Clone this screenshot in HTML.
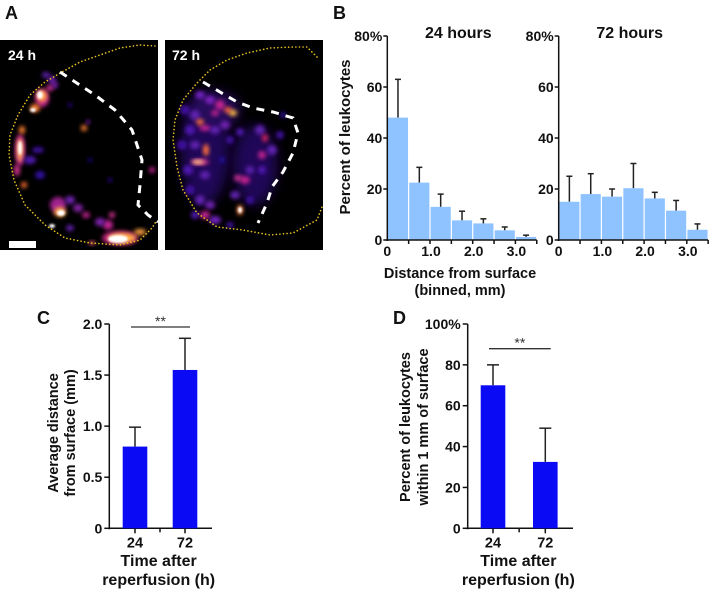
<!DOCTYPE html>
<html><head><meta charset="utf-8">
<style>
html,body{margin:0;padding:0;background:#fff;}
body{width:709px;height:590px;overflow:hidden;font-family:"Liberation Sans",Arial,sans-serif;}
svg text{font-family:"Liberation Sans",Arial,sans-serif;font-weight:bold;fill:#111;}
</style></head>
<body>
<svg id="fig" width="709" height="590" viewBox="0 0 709 590" xmlns="http://www.w3.org/2000/svg">
<defs>
<filter id="blur" x="-50%" y="-50%" width="200%" height="200%"><feGaussianBlur stdDeviation="2"/></filter>
<filter id="blur2" x="-50%" y="-50%" width="200%" height="200%"><feGaussianBlur stdDeviation="1"/></filter>
<filter id="blur3" x="-50%" y="-50%" width="200%" height="200%"><feGaussianBlur stdDeviation="6"/></filter>
<clipPath id="clipL"><rect x="0" y="40" width="158" height="210"/></clipPath>
<clipPath id="clipR"><rect x="165" y="40" width="158" height="210"/></clipPath>
</defs>
<text x="5" y="19" font-size="18">A</text>
<text x="333" y="19" font-size="18">B</text>
<text x="37" y="324" font-size="18">C</text>
<text x="393" y="324" font-size="18">D</text>

<g>
<rect x="0" y="40" width="158" height="210" fill="#000"/>
<g id="blobsL" clip-path="url(#clipL)"></g>
<polyline fill="none" stroke="#e8c020" stroke-width="1.6" stroke-linecap="round" stroke-dasharray="0.1 3.5" points="155,46 140,45 120,48 100,55 80,62 62,72 45,82 30,95 18,115 10,135 9,155 14,180 25,205 45,225 65,238 90,243 120,245 140,240 152,228 157,220"/>
<polyline fill="none" stroke="#fff" stroke-width="3" stroke-dasharray="8 7" points="60,72 95,95 115,110 132,130 142,160 140,185 138,205 148,215 158,222"/>
<text x="8" y="60" font-size="14" style="fill:#fff">24 h</text>
<rect x="9" y="241" width="27" height="7" fill="#fff"/>
</g>
<g>
<rect x="165" y="40" width="158" height="210" fill="#000"/>
<g clip-path="url(#clipR)" opacity="0.55">
<ellipse cx="205" cy="150" rx="24" ry="55" fill="#3a10a0" filter="url(#blur3)"/>
<ellipse cx="255" cy="165" rx="22" ry="40" fill="#3a10a0" filter="url(#blur3)"/>
<ellipse cx="215" cy="110" rx="25" ry="18" fill="#4a14a8" filter="url(#blur3)"/>
</g>
<g id="blobsR" clip-path="url(#clipR)"></g>
<polyline fill="none" stroke="#e8c020" stroke-width="1.6" stroke-linecap="round" stroke-dasharray="0.1 3.5" points="317,57 307,47 293,47 270,48 247,53 227,60 210,70 197,83 183,100 175,120 173,140 177,167 183,190 197,213 217,227 243,230 270,235 293,233 317,220 322,207"/>
<polyline fill="none" stroke="#fff" stroke-width="3" stroke-dasharray="8 7" points="203,82 220,92 237,102 253,108 273,112 293,118 298,133 293,153 283,172 272,187 267,203 258,223"/>
<text x="172" y="60" font-size="14" style="fill:#fff">72 h</text>
</g>

<g id="panelB"></g>
<g id="panelC"></g>
<g id="panelD"></g>
</svg>
<script>
// Panel B data
const binStarts = [0, 0.5, 1.0, 1.5, 2.0, 2.5, 3.0];
const vals24 = [48, 22.5, 13, 7.7, 6.5, 3.8, 1.2];
const err24 = [63, 28.5, 18, 11.3, 8.3, 5.1, 1.9];
const vals72 = [15, 18, 17, 20.3, 16.3, 11.5, 4];
const err72 = [25, 26, 20, 30, 18.7, 15.5, 6.3];
const bTicks = [0, 20, 40, 60, 80];
const bTickLabels = ['0', '20', '40', '60', '80%'];
const bXTicks = [0, 1, 2, 3];
const bXTickLabels = ['0', '1.0', '2.0', '3.0'];
// Panel C data
const groupsC = ['24', '72'];
const meanC = [0.8, 1.55];
const errC = [0.99, 1.86];
const cTicks = [0, 0.5, 1.0, 1.5, 2.0];
const cTickLabels = ['0', '0.5', '1.0', '1.5', '2.0'];
// Panel D data
const groupsD = ['24', '72'];
const meanD = [70, 32.5];
const errD = [80, 49];
const dTicks = [0, 20, 40, 60, 80, 100];
const dTickLabels = ['0', '20', '40', '60', '80', '100%'];

const NS = 'http://www.w3.org/2000/svg';
function mk(parent, tag, attrs, text) {
  const e = document.createElementNS(NS, tag);
  for (const k in attrs) e.setAttribute(k, attrs[k]);
  if (text !== undefined) e.textContent = text;
  parent.appendChild(e);
  return e;
}

// Image blobs (decorative)
const blobsLeft = [
 [46,75,4,3,'#6020b0'],[52,80,4,4,'#7020b0'],
 [42,98,7,9,'#c02090'],[42,96,5,6,'#ffa040'],[40,95,3,4,'#fff'],[35,108,5,4,'#ff8030'],[33,110,3,2,'#fff'],[50,88,4,3,'#d03090'],[55,85,3,3,'#8020c0'],
 [20,150,5,16,'#c02090'],[20,150,3,12,'#ffb050'],[20,148,2,7,'#fff'],[22,130,3,4,'#ff8030'],[17,170,3,6,'#d03090'],[24,185,3,3,'#ff7030'],[30,160,6,4,'#5018b0'],[38,150,6,3,'#4010a0'],[40,175,5,4,'#3010a0'],
 [58,205,8,8,'#a02090'],[60,212,6,5,'#ffa040'],[61,213,4,3,'#fff'],[52,226,3,2,'#fff'],[70,200,5,4,'#7020b0'],[78,208,5,4,'#8020a0'],[86,215,4,3,'#c02090'],[70,228,4,3,'#6020b0'],
 [120,238,18,7,'#c02080'],[122,238,14,5,'#ffb040'],[118,239,10,4,'#fff'],[108,225,5,5,'#c02090'],[100,222,5,4,'#8020b0'],[112,215,3,3,'#d03090'],[92,243,3,2,'#ff6080'],[140,232,6,3,'#ffa040'],
 [84,128,3,3,'#ff8030'],[88,122,2,2,'#8020c0'],[152,170,3,3,'#c02090'],[70,105,2,2,'#3010a0'],[110,180,2,2,'#3010a0'],[90,160,2,2,'#2010a0']
];
const blobsRight = [
 [200,95,5,4,'#7020c0'],[210,100,5,4,'#8020c0'],[220,105,5,5,'#c02090'],[228,110,4,3,'#ff6040'],[233,113,4,3,'#ffc040'],[215,113,4,3,'#c02090'],
 [185,110,5,5,'#4010a0'],[195,115,5,5,'#6020b0'],[205,128,6,3,'#c02090'],[200,122,4,3,'#ff7040'],[190,130,5,5,'#5018b0'],[215,130,5,4,'#6020b0'],[225,125,5,4,'#7020b0'],
 [182,145,5,5,'#4010a0'],[195,145,5,4,'#6020b0'],[206,150,3,6,'#ff7040'],[200,162,9,3,'#d03090'],[198,162,6,2,'#ffd080'],[188,170,5,5,'#5018b0'],[205,175,5,4,'#6020b0'],
 [190,190,5,5,'#4010a0'],[200,200,5,5,'#6020b0'],[210,205,5,4,'#7020b0'],[205,215,5,4,'#c02090'],[215,220,6,4,'#7020c0'],[195,215,4,4,'#5018b0'],
 [230,140,4,4,'#4010a0'],[240,132,4,4,'#5018b0'],[260,130,5,5,'#6020b0'],[265,138,3,4,'#d02060'],[272,150,5,5,'#6020b0'],[262,155,4,4,'#c02090'],[280,135,4,4,'#4010a0'],
 [245,180,5,4,'#c02090'],[238,178,4,3,'#d03090'],[250,170,4,4,'#6020b0'],[235,195,5,4,'#6020b0'],[240,210,3,5,'#ff8040'],[240,210,2,3,'#fff'],[250,200,4,4,'#4010a0'],[262,170,4,4,'#5018b0'],
 [222,160,3,3,'#2010a0'],[230,225,4,3,'#4010a0'],[283,115,3,3,'#3010a0']
];
function drawBlobs(g, list) {
  list.forEach(b => {
    const e = mk(g, 'ellipse', {cx:b[0], cy:b[1], rx:b[2], ry:b[3], fill:b[4], filter: b[4]==='#fff'?'url(#blur2)':'url(#blur)'});
    
    
  });
}
drawBlobs(document.getElementById('blobsL'), blobsLeft);
drawBlobs(document.getElementById('blobsR'), blobsRight);

// Panel B
function histogram(g, x0, vals, errs, title, name) {
  const y0 = 240, yTop = 36, pxPerX = 42.7;
  const ys = v => y0 - (v / 80) * (y0 - yTop);
  const xs = v => x0 + v * pxPerX;
  const grp = mk(g, 'g', {});
  
  
  binStarts.forEach((s, i) => {
    const xa = xs(s) + 0.6, xb = xs(s + 0.5) - 0.6;
    const xc = (xa + xb) / 2;
    const el = mk(grp, 'line', {x1:xc, x2:xc, y1:ys(vals[i]), y2:ys(errs[i]), stroke:'#222', 'stroke-width':1.5});
    
    
    const cap = mk(grp, 'line', {x1:xc-3, x2:xc+3, y1:ys(errs[i]), y2:ys(errs[i]), stroke:'#222', 'stroke-width':1.5});
    
    
    const r = mk(grp, 'rect', {x:xa, y:ys(vals[i]), width:xb-xa, height:y0-ys(vals[i]), fill:'#8ec3ff'});
    
    
  });
  mk(grp, 'line', {x1:x0, x2:x0, y1:yTop, y2:y0+1, stroke:'#111', 'stroke-width':1.5});
  mk(grp, 'line', {x1:x0-1, x2:xs(3.5), y1:y0, y2:y0, stroke:'#111', 'stroke-width':1.5});
  bTicks.forEach((t, i) => {
    mk(grp, 'line', {x1:x0-4, x2:x0, y1:ys(t), y2:ys(t), stroke:'#111', 'stroke-width':1.5});
    const tl = mk(grp, 'text', {x:x0-5, y:ys(t)+5, 'font-size':14, 'text-anchor':'end'}, bTickLabels[i]);
    
    
  });
  [0.5,1,1.5,2,2.5,3,3.5].forEach(t => mk(grp, 'line', {x1:xs(t), x2:xs(t), y1:y0, y2:y0+4, stroke:'#111', 'stroke-width':1.5}));
  bXTicks.forEach((t, i) => {
    const tl = mk(grp, 'text', {x:xs(t)+(i===0?0:1), y:y0+16, 'font-size':14, 'text-anchor':'middle'}, bXTickLabels[i]);
    
    
  });
  const tt = mk(grp, 'text', {x:x0+71, y:38, 'font-size':16, 'text-anchor':'middle'}, title);
  
  
}
const gB = document.getElementById('panelB');
histogram(gB, 387.3, vals24, err24, '24 hours', 'histogram-24h');
histogram(gB, 558.7, vals72, err72, '72 hours', 'histogram-72h');
let t = mk(gB, 'text', {x:0, y:0, 'font-size':15, 'text-anchor':'middle', transform:'translate(350,137) rotate(-90)'}, 'Percent of leukocytes');
 
t = mk(gB, 'text', {x:460, y:278, 'font-size':14.5, 'text-anchor':'middle'}, 'Distance from surface');
 
t = mk(gB, 'text', {x:460, y:295, 'font-size':14.5, 'text-anchor':'middle'}, '(binned, mm)');
 

// Panels C & D
function barPanel(g, o) {
  const y0 = 528.3, yTop = 324;
  const ys = v => y0 - (v / o.max) * (y0 - yTop);
  mk(g, 'line', {x1:o.ax, x2:o.ax, y1:yTop, y2:y0+1, stroke:'#111', 'stroke-width':1.5});
  mk(g, 'line', {x1:o.ax-1, x2:o.axEnd, y1:y0, y2:y0, stroke:'#111', 'stroke-width':1.5});
  o.ticks.forEach((tv, i) => {
    mk(g, 'line', {x1:o.ax-5, x2:o.ax, y1:ys(tv), y2:ys(tv), stroke:'#111', 'stroke-width':1.5});
    const tl = mk(g, 'text', {x:o.ax-7, y:ys(tv)+5, 'font-size':14, 'text-anchor':'end'}, o.labels[i]);
    
    
  });
  const w = 24.6;
  o.groups.forEach((gname, i) => {
    const xc = o.centers[i];
    const el = mk(g, 'line', {x1:xc, x2:xc, y1:ys(o.mean[i]), y2:ys(o.err[i]), stroke:'#222', 'stroke-width':1.5});
    
    
    const cap = mk(g, 'line', {x1:xc-6, x2:xc+6, y1:ys(o.err[i]), y2:ys(o.err[i]), stroke:'#222', 'stroke-width':1.5});
    
    
    const r = mk(g, 'rect', {x:xc-w/2, y:ys(o.mean[i]), width:w, height:y0-ys(o.mean[i]), fill:'#0a0af5'});
    
    
    mk(g, 'line', {x1:xc, x2:xc, y1:y0, y2:y0+5, stroke:'#111', 'stroke-width':1.5});
    const tl = mk(g, 'text', {x:xc, y:y0+19, 'font-size':14.5, 'text-anchor':'middle'}, gname);
    
    
  });
  mk(g, 'line', {x1:(o.centers[0]+o.centers[1])/2, x2:(o.centers[0]+o.centers[1])/2, y1:y0, y2:y0+4, stroke:'#111', 'stroke-width':1.5});
  const sl = mk(g, 'line', {x1:o.sigX1, x2:o.sigX2, y1:o.sigY, y2:o.sigY, stroke:'#333', 'stroke-width':1.3});
  
  
  const st = mk(g, 'text', {x:(o.sigX1+o.sigX2)/2, y:o.sigY-1, 'font-size':14, 'text-anchor':'middle', style:'font-weight:normal;fill:#333'}, '**');
  
  
  const cx = (o.ax + o.axEnd) / 2 - 2;
  let a = mk(g, 'text', {x:cx, y:566, 'font-size':16, 'text-anchor':'middle'}, 'Time after');
   
  a = mk(g, 'text', {x:cx, y:585, 'font-size':16, 'text-anchor':'middle'}, 'reperfusion (h)');
   
  o.ytitle.forEach((line, i) => {
    const yt = mk(g, 'text', {x:0, y:0, 'font-size':14.5, 'text-anchor':'middle', transform:'translate(' + o.ytx[i] + ',' + o.yty + ') rotate(-90)'}, line);
    
    
  });
}
barPanel(document.getElementById('panelC'), {ax:109.3, axEnd:212, max:2.0, ticks:cTicks, labels:cTickLabels, groups:groupsC, mean:meanC, err:errC, centers:[135,185], sigX1:131, sigX2:190, sigY:327, ytitle:['Average distance','from surface (mm)'], ytx:[58,75], yty:433});
barPanel(document.getElementById('panelD'), {ax:467.7, axEnd:573, max:100, ticks:dTicks, labels:dTickLabels, groups:groupsD, mean:meanD, err:errD, centers:[493,545.3], sigX1:489, sigX2:550.7, sigY:348.7, ytitle:['Percent of leukocytes','within 1 mm of surface'], ytx:[410,428], yty:427});
</script>
</body></html>
